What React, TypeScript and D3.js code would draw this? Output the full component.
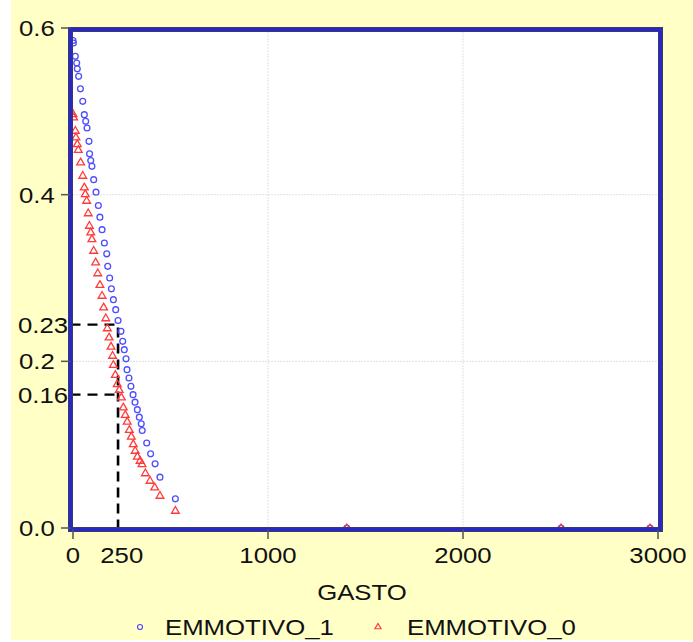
import React from "react";
import * as d3 from "d3";

// EMMOTIVO_1 (blue circles)
const emm1Gasto = [0,2,12,19,22,29,38,50,58,65,72,82,85,91,97,106,118,130,138,149,161,173,178,188,197,207,219,231,246,255,263,272,277,287,297,308,318,330,340,350,355,378,398,421,446,525,1404,2503,2959];
const emm1Prob = [0.585,0.582,0.566,0.558,0.551,0.542,0.527,0.512,0.496,0.488,0.480,0.464,0.449,0.441,0.434,0.418,0.403,0.387,0.373,0.358,0.342,0.329,0.314,0.300,0.287,0.274,0.262,0.249,0.236,0.224,0.214,0.203,0.190,0.180,0.170,0.160,0.151,0.142,0.133,0.125,0.117,0.102,0.089,0.077,0.061,0.035,0,0,0];

// EMMOTIVO_0 (red triangles)
const emm0Gasto = [0,3,12,15,22,27,39,50,58,63,70,78,84,91,97,106,116,127,138,149,157,168,176,185,195,203,207,217,227,237,248,258,268,278,289,299,309,319,330,344,354,371,395,419,446,525,1404,2503,2959];
const emm0Prob = [0.497,0.493,0.477,0.469,0.461,0.454,0.439,0.423,0.409,0.401,0.393,0.378,0.363,0.355,0.347,0.333,0.319,0.306,0.292,0.279,0.265,0.252,0.240,0.229,0.218,0.207,0.196,0.184,0.173,0.166,0.157,0.145,0.136,0.128,0.118,0.110,0.101,0.093,0.086,0.081,0.077,0.066,0.057,0.049,0.039,0.021,0,0,0];

const xTicks = [0, 1000, 2000, 3000];
const xTickLabels = ["0", "1000", "2000", "3000"];
const yTicks = [0, 0.2, 0.4, 0.6];
const yTickLabels = ["0.0", "0.2", "0.4", "0.6"];
const xGrid = [1000, 2000];
const yGrid = [0.2, 0.4];

// reference markers
const refX = 231;
const refXLabel = "250";
const refXLabelPos = 250;
const refYValues = [0.244, 0.16];
const refYLabels = ["0.23", "0.16"];

const xTitle = "GASTO";
const seriesNames = ["EMMOTIVO_1", "EMMOTIVO_0"];

const BLUE = "#4d4dff";
const RED = "#ff3a3a";
const FONT = "'Liberation Sans', Arial, sans-serif";
const FS = 23;
const SX = 1.12;

function T({ x, y, anchor = "start", children }: any) {
  return (
    <text
      transform={`translate(${x},${y}) scale(${SX},1)`}
      textAnchor={anchor}
      fontFamily={FONT}
      fontSize={FS}
      fill="#111"
    >
      {children}
    </text>
  );
}

export default function App() {
  const W = 693, H = 642;
  const x = d3.scaleLinear().domain([0, 3000]).range([73, 658]);
  const y = d3.scaleLinear().domain([0, 0.6]).range([528, 28]);
  const left = 70.5, right = 660.5, top = 29.5, bottom = 529.5;
  const tri = d3.symbol().type(d3.symbolTriangle).size(26)() as string;
  const triSmall = d3.symbol().type(d3.symbolTriangle).size(16)() as string;

  return (
    <svg
      width={W}
      height={H}
      style={{ position: "absolute", left: 0, top: 0, background: "#fff" }}
    >
      <rect x={11} y={0} width={W - 11} height={640} fill="#ffffc6" />
      <rect x={left} y={top} width={right - left} height={bottom - top} fill="#fff" />

      {xGrid.map((v) => (
        <line key={"xg" + v} x1={x(v)} x2={x(v)} y1={top} y2={bottom}
          stroke="#c4c4c4" strokeWidth={1} strokeDasharray="1,2" />
      ))}
      {yGrid.map((v) => (
        <line key={"yg" + v} x1={left} x2={right} y1={y(v)} y2={y(v)}
          stroke="#c4c4c4" strokeWidth={1} strokeDasharray="1,2" />
      ))}

      {/* reference dashed lines */}
      <line x1={x(refX)} x2={x(refX)} y1={bottom} y2={y(refYValues[0])}
        stroke="#000" strokeWidth={2.6} strokeDasharray="10,6" />
      {refYValues.map((v) => (
        <line key={"ry" + v} x1={left} x2={x(refX)} y1={y(v)} y2={y(v)}
          stroke="#000" strokeWidth={2.4} strokeDasharray="10,7" />
      ))}

      {/* points */}
      {emm1Gasto.map((g, i) => (
        <circle key={"c" + i} cx={x(g)} cy={y(emm1Prob[i])} r={2.9}
          fill="none" stroke={BLUE} strokeWidth={1.3} />
      ))}
      {emm0Gasto.map((g, i) => (
        <path key={"t" + i} d={tri}
          transform={`translate(${x(g)},${y(emm0Prob[i]) + 0.5})`}
          fill="none" stroke={RED} strokeWidth={1.3} />
      ))}

      {/* frame */}
      <rect x={left} y={top} width={right - left} height={bottom - top}
        fill="none" stroke="#3a3a6a" strokeWidth={5} />
      <rect x={left} y={top} width={right - left} height={bottom - top}
        fill="none" stroke="#2828c8" strokeWidth={3} />

      {/* y ticks */}
      {yTicks.map((v, i) => (
        <g key={"yt" + v}>
          <line x1={61} x2={left} y1={y(v)} y2={y(v)} stroke="#555" strokeWidth={1.5} />
          <T x={19 / 1} y={y(v) + 8}>{yTickLabels[i]}</T>
        </g>
      ))}
      {refYValues.map((v, i) => (
        <T key={"ryl" + v} x={18} y={y(v) + 8}>{refYLabels[i]}</T>
      ))}

      {/* x ticks */}
      {xTicks.map((v, i) => (
        <g key={"xt" + v}>
          <line x1={x(v)} x2={x(v)} y1={bottom} y2={539} stroke="#555" strokeWidth={1.5} />
          <T x={x(v)} y={563} anchor="middle">{xTickLabels[i]}</T>
        </g>
      ))}
      <T x={x(refXLabelPos)} y={563} anchor="middle">{refXLabel}</T>

      <T x={362} y={600} anchor="middle">{xTitle}</T>

      {/* legend */}
      <circle cx={140} cy={627} r={2.5} fill="none" stroke={BLUE} strokeWidth={1.2} />
      <T x={165} y={635}>{seriesNames[0]}</T>
      <path d={triSmall} transform="translate(378,627)" fill="none" stroke={RED} strokeWidth={1.2} />
      <T x={407} y={635}>{seriesNames[1]}</T>
    </svg>
  );
}
